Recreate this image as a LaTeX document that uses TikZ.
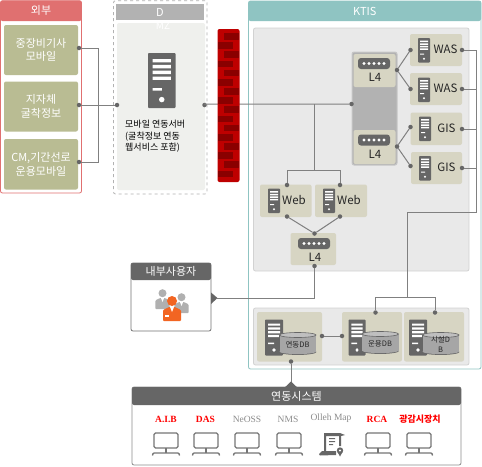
\documentclass[tikz,border=0pt]{standalone}
\usepackage{fontspec}
\setmainfont{Noto Sans CJK KR}
\newfontfamily\serifl{Liberation Serif}
\definecolor{olive}{HTML}{B9BC93}
\definecolor{beige}{HTML}{D7D5C3}
\definecolor{panelg}{HTML}{E9E9E9}
\definecolor{panelb}{HTML}{D2D2D2}
\definecolor{dark}{HTML}{666666}
\definecolor{linec}{HTML}{808080}
\definecolor{teal1}{HTML}{8FC4C2}
\definecolor{red1}{HTML}{E07070}
\definecolor{fwred}{HTML}{BE0000}
\definecolor{fwdark}{HTML}{8A0000}
\definecolor{orange1}{HTML}{F26522}
\definecolor{person}{HTML}{B0B0B0}
\definecolor{labgray}{HTML}{8C8C8C}
\tikzset{
  x=1pt,y=-1pt,
  pbase/.style={inner sep=0pt,outer sep=0pt,rounded corners=2pt,align=center},
  dotn/.style={circle,fill=dark,inner sep=0pt,minimum size=4.5pt,outer sep=0pt},
  conn/.style={draw=linec,line width=1pt},
  whitet/.style={text=white,font=\fontsize{11}{13.5}\selectfont},
  darkt/.style={text=black!85,font=\fontsize{11.5}{13}\selectfont},
  dbt/.style={text=black!85,font=\fontsize{7.5}{9}\selectfont},
  labr/.style={text=red,font=\serifl\bfseries\fontsize{9.5}{11}\selectfont},
  labg/.style={text=labgray,font=\serifl\fontsize{9.5}{11}\selectfont}
}
\newcommand{\pbox}[7]{\node[pbase,minimum width={(#4-#2)*1pt},minimum height={(#5-#3)*1pt},#6] (#1) at ({(#2+#4)/2},{(#3+#5)/2}) {#7};}
\newcommand{\srv}[4]{\begin{scope}[shift={(#1,#2)},xscale=#3/18,yscale=#4/36]
  \fill[dark,rounded corners=0.8pt] (0,0) rectangle (18,36);
  \fill[white] (3,4) rectangle (15,6.2) (3,7.8) rectangle (15,10) (3,11.6) rectangle (15,13.8) (3,15.4) rectangle (15,17.6) (3,23) rectangle (9,24.6);
  \fill[white] (9,30.5) circle (1.8);
\end{scope}}
\newcommand{\swi}[2]{\begin{scope}[shift={(#1,#2)}]
  \fill[dark,rounded corners=3pt] (0,0) rectangle (32,11);
  \foreach \q in {6,11,16,21,26} \fill[white] (\q,5.5) circle (1.6);
\end{scope}}
\newcommand{\cyl}[4]{\begin{scope}[shift={(#1,#2)}]
  \fill[dark] (#3/2,#4-2.5) ellipse[x radius=#3/2+.4,y radius=2.9];
  \fill[dark] (-.4,2.5) rectangle (#3+.4,#4-2.5);
  \fill[black!35] (#3/2,#4-2.9) ellipse[x radius=#3/2,y radius=2.5];
  \fill[black!35] (0,2.5) rectangle (#3,#4-2.9);
  \draw[dark,line width=.6pt,fill=black!25] (#3/2,2.5) ellipse[x radius=#3/2,y radius=2.5];
\end{scope}}
\newcommand{\moni}[1]{\begin{scope}[shift={(#1,433)}]
  \draw[dark!90,line width=1.3pt,rounded corners=1.5pt] (-12,0) rectangle (12,15);
  \draw[dark!90,line width=1.3pt] (0,15) -- (0,20);
  \draw[dark!90,line width=1.3pt,rounded corners=1pt] (-13.5,22.5) -- (-13,20) -- (13,20) -- (13.5,22.5);
\end{scope}}
\newcommand{\pers}[4]{\begin{scope}[shift={(#1,#2)},scale=#3]
  \fill[#4] (0,-6) circle (5);
  \fill[#4,rounded corners=1pt] (-9,14) -- (-9,3) -- (-3,0) -- (3,0) -- (9,3) -- (9,14) -- cycle;
  \fill[white] (-2,0) -- (2,0) -- (0,5) -- cycle;
\end{scope}}
\begin{document}
\begin{tikzpicture}
\useasboundingbox (0,0) rectangle (482,466);
\fill[white] (0,0) rectangle (482,466);
% External panel
\pbox{extp}{0.5}{0.7}{81.5}{193}{draw=red1,line width=.8pt,fill=white}{}
\pbox{exth}{0.5}{0.7}{81.5}{21}{fill=red1,whitet}{외부}
\pbox{ext1}{4}{25}{78}{75}{fill=olive,whitet}{중장비기사\\모바일}
\pbox{ext2}{4}{81.5}{78}{131.5}{fill=olive,whitet}{지자체\\굴착정보}
\pbox{ext3}{4}{139}{78}{189.5}{fill=olive,whitet}{CM,기간선로\\운용모바일}
% DMZ panel
\pbox{dmzp}{113.5}{0.7}{207}{194}{draw=black!30,line width=.8pt,dashed,fill=white}{}
\pbox{dmzh}{116}{4}{204}{20}{rounded corners=0pt,fill=black!30,text=white,font=\fontsize{11}{12}\selectfont}{D}
\pbox{dmzb}{117}{23}{205}{190}{fill=black!5!white!95!olive}{}
\node[text=white,font=\fontsize{10}{12}\selectfont] (dmzt) at (163,26) {MZ};
\srv{148}{53}{27.5}{55}
\node[font=\fontsize{9}{11.6}\selectfont,align=left,anchor=north west,inner sep=0pt,text=black] (mobt) at (125,120) {모바일 연동서버\\(굴착정보 연동\\웹서비스 포함)};
% KTIS panel
\pbox{ktp}{248.5}{1}{481}{369}{draw=teal1,line width=.8pt,fill=white}{}
\pbox{kth}{248.5}{1}{481}{21}{fill=teal1,whitet}{KTIS}
\pbox{ktin}{253.5}{28}{469}{271}{draw=panelb,line width=.8pt,fill=panelg}{}
\pbox{dbp}{253.5}{308}{469}{365}{draw=panelb,line width=.8pt,fill=panelg}{}
% L4 group
\pbox{l4g}{352}{52}{397}{165}{draw=black!22,line width=1pt,fill=black!30}{}
\pbox{l4a}{353.5}{54}{395.5}{87}{fill=beige}{}
\pbox{l4b}{353.5}{130}{395.5}{164}{fill=beige}{}
\swi{358}{58}\swi{358}{134.5}
\node[darkt] (l4at) at (375,77.5) {L4};
\node[darkt] (l4bt) at (375,154) {L4};
% server boxes
\pbox{was1}{410}{34}{462}{66}{fill=beige}{}
\pbox{was2}{410}{73}{462}{105}{fill=beige}{}
\pbox{gis1}{410.5}{112.5}{462}{145}{fill=beige}{}
\pbox{gis2}{411}{152}{462}{184}{fill=beige}{}
\srv{418}{38}{12}{24.5}\srv{418}{77.5}{12}{24.5}\srv{419}{116.5}{12}{24.5}\srv{419}{156}{12}{24.5}
\node[darkt] (was1t) at (445.5,49.5) {WAS};
\node[darkt] (was2t) at (445.5,88.5) {WAS};
\node[darkt] (gis1t) at (446.5,128.5) {GIS};
\node[darkt] (gis2t) at (446.5,167.5) {GIS};
\pbox{web1}{260}{184.5}{311.5}{217}{fill=beige}{}
\pbox{web2}{315}{184.5}{367}{217}{fill=beige}{}
\srv{268}{188.5}{12}{24.5}\srv{323}{188.5}{12}{24.5}
\node[darkt] (web1t) at (294,200) {Web};
\node[darkt] (web2t) at (349,200) {Web};
\pbox{l4c}{290.5}{233}{336}{265}{fill=beige}{}
\swi{298}{238}
\node[darkt] (l4ct) at (315,257) {L4};
% DB boxes
\pbox{db1}{257}{312}{322}{361.5}{fill=beige}{}
\pbox{db2}{342}{312}{402}{361.5}{fill=beige}{}
\pbox{db3}{404}{312}{464}{361.5}{fill=beige}{}
\srv{265}{319.5}{18}{36}\srv{348.5}{319.5}{17}{36}\srv{409}{319.5}{18}{36}
\cyl{279.5}{332.5}{36.5}{22}\cyl{362}{331.5}{36.5}{22}\cyl{422.5}{332.5}{36.5}{22}
\node[dbt] (db1t) at (297.5,344.5) {연동DB};
\node[dbt] (db2t) at (380,343.5) {운용DB};
\node[dbt,align=center,font=\fontsize{7.5}{9.5}\selectfont] (db3t) at (440.5,344.5) {시설D\\B};
% inner user panel
\pbox{usrp}{131}{263}{211}{331}{draw=black!55,line width=.8pt,fill=white}{}
\pbox{usrh}{131}{263}{211}{280}{fill=dark,whitet}{내부사용자}
\pers{162.5}{298}{.8}{person}
\pers{181.5}{302}{.8}{person}
\pers{172}{307}{1}{orange1}
\fill[white] (165,315) rectangle (169,317);
% system panel
\pbox{sysp}{132}{387}{461}{465}{draw=black!45,line width=.8pt,fill=white}{}
\pbox{sysh}{132}{387}{461}{405}{fill=dark,whitet}{연동시스템}
\node[labr] (s1) at (166,419.5) {A.I.B};
\node[labr] (s2) at (205.5,419.5) {DAS};
\node[labg] (s3) at (247,419.5) {NeOSS};
\node[labg] (s4) at (288,419.5) {NMS};
\node[labg] (s5) at (331,418.5) {Olleh Map};
\node[labr] (s6) at (377,419.5) {RCA};
\node[labr,font=\bfseries\fontsize{9}{10}\selectfont] (s7) at (420,419.5) {광감시장치};
\moni{166}\moni{206}\moni{247}\moni{289}\moni{378}\moni{419}
% map icon
\fill[dark] (319,454) -- (322,451) -- (324,451) -- (324,433) -- (340,433) -- (345,435) -- (341,436) -- (341,446) -- (339,446) -- (339,436) -- (326,436) -- (326,451) -- (336,451) -- (336,455) -- (320,455.5) -- cycle;
\fill[dark] (329,438) rectangle (335,439) (329,441) rectangle (335,442) (329,444) rectangle (333,445);
\fill[dark] (340,450.5) circle (3.2);\fill[dark] (337.5,452) -- (342.5,452) -- (340,456.5) -- cycle;
\fill[white] (340,450.5) circle (1.2);
% dots
\node[dotn] (d1) at (79,48) {};
\node[dotn] (d2) at (79,105) {};
\node[dotn] (d3) at (79,162) {};
\node[dotn] (d4) at (117,105) {};
\node[dotn] (d5) at (204.5,105) {};
\node[dotn] (d6) at (351.5,104) {};
\node[dotn] (d7) at (397,70) {};
\node[dotn] (d8) at (397,146.5) {};
\foreach \n/\x/\y in {w1/410.5/50,w2/410.5/89,g1/410.5/127,g2/410.5/166,wr1/462/50,wr2/462/89,gr1/462/129,gr2/462/168,wb1/287/185,wb2/340/185,wb3/287/216.5,wb4/340/216.5,lc1/314.5/233.5,lc2/314.5/266,dba/322/336,dbb/342/336,dbc/375.5/312.5,dbd/435/312.5,dbe/291/361.5}
  \node[dotn] (\n) at (\x,\y) {};
\coordinate (bus1) at (98,105);
\coordinate (bus2) at (476.3,212);
\coordinate (bus3) at (407,297);
\coordinate (bus4) at (314,170);
\coordinate (uap) at (217,298);
\coordinate (sysap) at (291,382);
% connectors
\draw[conn] (d1) -- (d1 -| bus1) -- (d3 -| bus1) -- (d3);
\draw[conn] (d2) -- (d4);
\draw[conn] (d5) -- (205,104) -- (d6);
\draw[conn] (bus4 |- d6) -- (bus4);
\draw[conn] (wb1) -- (wb1 |- bus4) -- (wb2 |- bus4) -- (wb2);
\draw[conn] (wb3) -- (lc1) -- (wb4);
\draw[conn] (d7) -- (w1); \draw[conn] (d7) -- (w2);
\draw[conn] (d8) -- (g1); \draw[conn] (d8) -- (g2);
\draw[conn] (wr1) -- (wr1 -| bus2) -- (bus2) -- (bus2 -| bus3) -- (bus3);
\draw[conn] (wr2) -- (wr2 -| bus2);
\draw[conn] (gr1) -- (gr1 -| bus2);
\draw[conn] (gr2) -- (gr2 -| bus2);
\draw[conn] (dbc) -- (dbc |- bus3) -- (dbd |- bus3) -- (dbd);
\draw[conn] (dba) -- (dbb);
\draw[conn] (lc2) -- (lc2 |- uap) -- (uap);
\draw[conn] (dbe) -- (sysap);
\fill[dark] (211,292.5) -- (217.5,298) -- (211,304) -- cycle;
\fill[dark] (285,387.2) -- (291,381.5) -- (297,387.2) -- cycle;
% firewall
\fill[fwred,rounded corners=2pt] (217.5,29) rectangle (239.5,182);
\foreach \k in {0,...,7} {
  \fill[fwdark] (224,{33+18.35*\k}) rectangle (238.7,{39.7+18.35*\k});
  \fill[fwdark] (218.3,{42.2+18.35*\k}) rectangle (233,{48.9+18.35*\k});
}
\end{tikzpicture}
\end{document}
